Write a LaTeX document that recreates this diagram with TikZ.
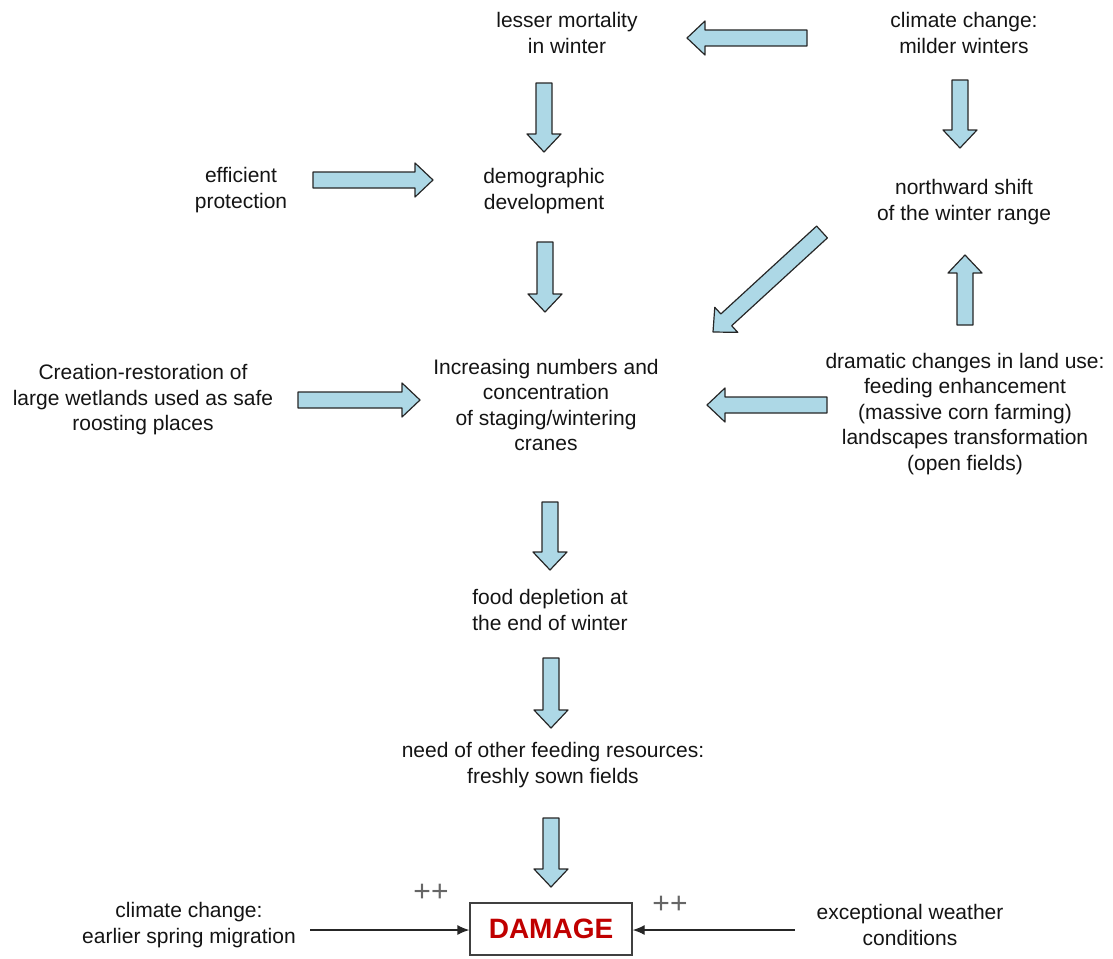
\documentclass[tikz,border=0pt]{standalone}
\usepackage{fontspec}
\setmainfont{Liberation Sans}
\usetikzlibrary{calc,arrows.meta}
\definecolor{arrblue}{HTML}{ADD8E6}
\definecolor{dmgred}{HTML}{C00000}
\tikzset{
  lbl/.style={align=center, font=\fontsize{21}{25.5}\selectfont, inner sep=0pt, text=black!92},
  barrow/.style={draw=black!85, line width=1.2pt, fill=arrblue, line join=round},
  thinarrow/.style={draw=black!85, line width=1.3pt, -{Latex[length=12pt,width=10pt]}},
  plus/.style={font=\fontsize{30}{30}\selectfont, text=black!60, inner sep=0pt},
  dmgbox/.style={draw=black!75, line width=1.3pt, minimum width=162pt, minimum height=52pt,
    inner sep=0pt, text=dmgred, font=\fontsize{28}{28}\selectfont\bfseries},
}
\newcommand\blockarrow[2]{%
  \coordinate (ba-h) at ($(#2)!18pt!(#1)$);
  \draw[barrow] ($(#1)!8pt!90:(#2)$) -- ($(ba-h)!8pt!90:(#2)$) -- ($(ba-h)!17pt!90:(#2)$)
    -- (#2) -- ($(ba-h)!17pt!-90:(#2)$) -- ($(ba-h)!8pt!-90:(#2)$) -- ($(#1)!8pt!-90:(#2)$) -- cycle;
}
\begin{document}
\begin{tikzpicture}[x=1pt,y=-1pt]
\useasboundingbox (0,0) rectangle (1113,958);
% text nodes
\node[lbl] (mort) at (567,33) {lesser mortality\\in winter};
\node[lbl] (ccm) at (964,33) {climate change:\\milder winters};
\node[lbl] (eff) at (241,190) {efficient\\protection};
\node[lbl] (demo) at (544,191) {demographic\\development};
\node[lbl] (north) at (964,202) {northward shift\\of the winter range};
\node[lbl] (creat) at (143,400) {Creation-restoration of\\large wetlands used as safe\\roosting places};
\node[lbl] (incr) at (546,405) {Increasing numbers and\\concentration\\of staging/wintering\\cranes};
\node[lbl] (land) at (965,414) {dramatic changes in land use:\\feeding enhancement\\(massive corn farming)\\landscapes transformation\\(open fields)};
\node[lbl] (food) at (550,610) {food depletion at\\the end of winter};
\node[lbl] (need) at (553,765) {need of other feeding resources:\\freshly sown fields};
\node[lbl] (ccs) at (189,925) {climate change:\\earlier spring migration};
\node[lbl] (exw) at (910,925) {exceptional weather\\conditions};
\node[dmgbox] (dmg) at (551,929) {DAMAGE};
\node[plus] (p1) at (431,893) {++};
\node[plus] (p2) at (670,905) {++};
% block arrow end points
\coordinate (a1s) at (807,38);  \coordinate (a1e) at (687,38);
\coordinate (a2s) at (544,83);  \coordinate (a2e) at (544,152);
\coordinate (a3s) at (960,80);  \coordinate (a3e) at (960,148);
\coordinate (a4s) at (313,180); \coordinate (a4e) at (433,180);
\coordinate (a5s) at (545,242); \coordinate (a5e) at (545,312);
\coordinate (a6s) at (822,232); \coordinate (a6e) at (713,332);
\coordinate (a7s) at (965,325); \coordinate (a7e) at (965,255);
\coordinate (a8s) at (298,400); \coordinate (a8e) at (420,400);
\coordinate (a9s) at (827,405); \coordinate (a9e) at (707,405);
\coordinate (a10s) at (550,502); \coordinate (a10e) at (550,570);
\coordinate (a11s) at (551,658); \coordinate (a11e) at (551,728);
\coordinate (a12s) at (551,818); \coordinate (a12e) at (551,887);
\blockarrow{a1s}{a1e}
\blockarrow{a2s}{a2e}
\blockarrow{a3s}{a3e}
\blockarrow{a4s}{a4e}
\blockarrow{a5s}{a5e}
\blockarrow{a6s}{a6e}
\blockarrow{a7s}{a7e}
\blockarrow{a8s}{a8e}
\blockarrow{a9s}{a9e}
\blockarrow{a10s}{a10e}
\blockarrow{a11s}{a11e}
\blockarrow{a12s}{a12e}
% thin arrows
\coordinate (t1s) at (310,930);
\coordinate (t2s) at (795,930);
\draw[thinarrow] (t1s) -- (dmg.west |- t1s);
\draw[thinarrow] (t2s) -- (dmg.east |- t2s);
\end{tikzpicture}
\end{document}
